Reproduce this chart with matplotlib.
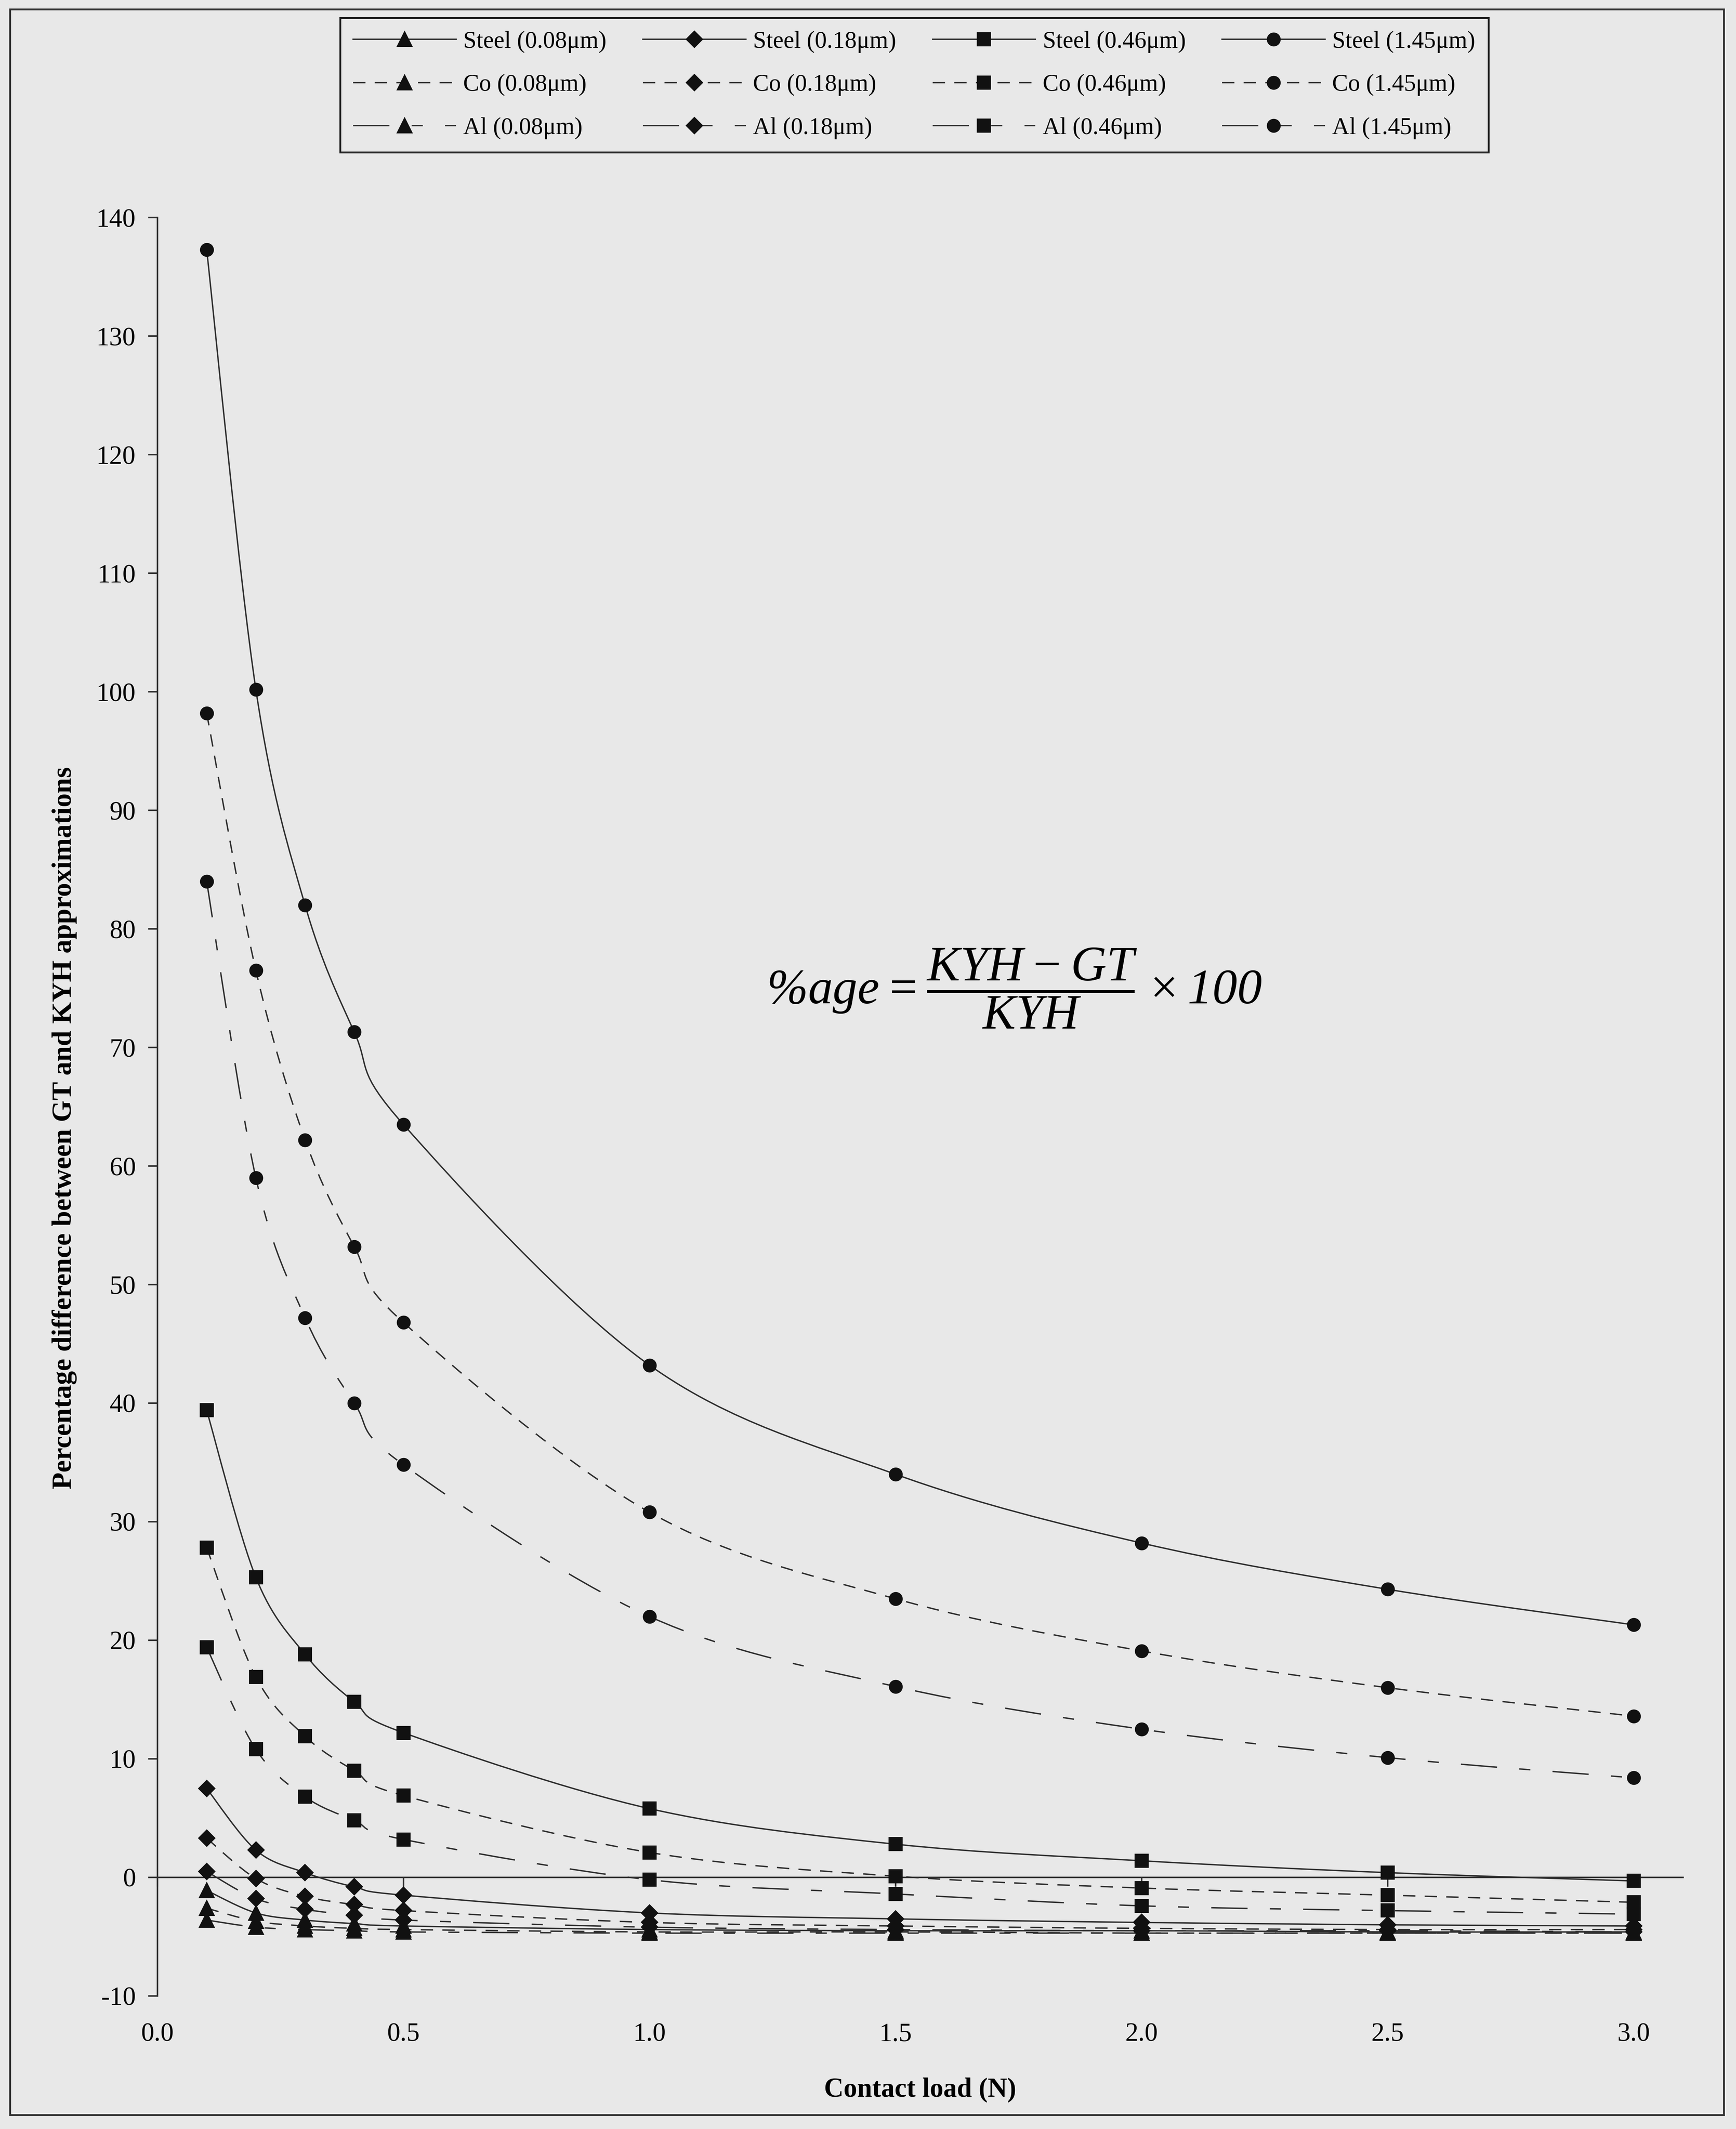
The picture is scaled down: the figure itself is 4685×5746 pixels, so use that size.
import numpy as np
import matplotlib
matplotlib.use("Agg")
import matplotlib.pyplot as plt
from matplotlib.path import Path
from matplotlib.patches import PathPatch, Rectangle
from matplotlib.lines import Line2D

plt.rcParams['font.family'] = ['Liberation Serif', 'DejaVu Serif']
plt.rcParams['axes.unicode_minus'] = False
plt.rcParams['lines.scale_dashes'] = False
# the formula is the only mathtext on the chart, set it all in italic
plt.rcParams['mathtext.fontset'] = 'custom'
plt.rcParams['mathtext.rm'] = 'Liberation Serif:italic'
plt.rcParams['mathtext.it'] = 'Liberation Serif:italic'

# contact load (N)
load = [0.1, 0.2, 0.3, 0.4, 0.5, 1.0, 1.5, 2.0, 2.5, 3.0]

# % difference between GT and KYH, per material and roughness
steel_008 = [-1.1, -3.0, -3.6, -3.9, -4.1, -4.4, -4.5, -4.5, -4.6, -4.6]
steel_018 = [7.5, 2.3, 0.4, -0.8, -1.5, -3.0, -3.5, -3.8, -4.0, -4.1]
steel_046 = [39.4, 25.3, 18.8, 14.8, 12.2, 5.8, 2.8, 1.4, 0.4, -0.3]
steel_145 = [137.3, 100.2, 82.0, 71.3, 63.5, 43.2, 34.0, 28.2, 24.3, 21.3]

co_008 = [-2.6, -3.7, -4.1, -4.3, -4.4, -4.6, -4.6, -4.7, -4.7, -4.7]
co_018 = [3.3, -0.1, -1.6, -2.3, -2.8, -3.8, -4.1, -4.3, -4.4, -4.4]
co_046 = [27.8, 16.9, 11.9, 9.0, 6.9, 2.1, 0.1, -0.9, -1.5, -2.1]
co_145 = [98.2, 76.5, 62.2, 53.2, 46.8, 30.8, 23.5, 19.1, 16.0, 13.6]

al_008 = [-3.6, -4.2, -4.4, -4.5, -4.6, -4.7, -4.7, -4.7, -4.7, -4.7]
al_018 = [0.5, -1.8, -2.7, -3.2, -3.6, -4.2, -4.4, -4.5, -4.5, -4.6]
al_046 = [19.4, 10.8, 6.8, 4.8, 3.2, -0.2, -1.4, -2.4, -2.8, -3.1]
al_145 = [84.0, 59.0, 47.2, 40.0, 34.8, 22.0, 16.1, 12.5, 10.1, 8.4]

materials = ['Steel', 'Co', 'Al']
roughness = ['0.08', '0.18', '0.46', '1.45']
data = {
    'Steel': [steel_008, steel_018, steel_046, steel_145],
    'Co': [co_008, co_018, co_046, co_145],
    'Al': [al_008, al_018, al_046, al_145],
}

line_styles = {'Steel': '-', 'Co': (0, (8, 6)), 'Al': (0, (23.5, 14.4, 7.2, 14.4))}
markers = {'0.08': ('^', 9), '0.18': ('D', 7.2), '0.46': ('s', 8), '1.45': ('o', 8)}
line_col = '#2e2e2e'
mark_col = '#111111'
bg = '#e8e8e8'


def smooth_path(xs, ys):
    # Bezier curve through the points, same tension as spreadsheet smoothing
    pts = np.column_stack([xs, ys])
    n = len(pts)
    verts = [pts[0]]
    codes = [Path.MOVETO]
    for i in range(n - 1):
        p0 = pts[i - 1] if i > 0 else pts[i]
        p1 = pts[i]
        p2 = pts[i + 1]
        p3 = pts[i + 2] if i + 2 < n else pts[i + 1]
        verts += [p1 + (p2 - p0) / 6.0, p2 - (p3 - p1) / 6.0, p2]
        codes += [Path.CURVE4] * 3
    return Path(verts, codes)


fig = plt.figure(figsize=(4685 / 300, 5746 / 300), dpi=300, facecolor=bg)
ax = fig.add_axes([0.0907, 0.0625, 0.8787, 0.8353])
ax.set_facecolor('none')

handles = {}
for mat in materials:
    for k, r in enumerate(roughness):
        ys = data[mat][k]
        patch = PathPatch(smooth_path(load, ys), fill=False, edgecolor=line_col,
                          lw=0.9, linestyle=line_styles[mat], zorder=2)
        ax.add_patch(patch)
        m, ms = markers[r]
        ax.plot(load, ys, linestyle='none', marker=m, ms=ms, color=mark_col, zorder=3)
        handles[(mat, r)] = Line2D([], [], color=line_col, lw=0.9, linestyle=line_styles[mat],
                                   marker=m, ms=ms, markerfacecolor=mark_col,
                                   markeredgecolor=mark_col)

ax.set_xlim(0, 3.1)
ax.set_ylim(-10, 140)
ax.set_yticks(np.arange(-10, 141, 10))
ax.set_xticks(np.arange(0, 3.01, 0.5))
ax.set_xticklabels(['%.1f' % v for v in np.arange(0, 3.01, 0.5)])

for s in ['top', 'right']:
    ax.spines[s].set_visible(False)
ax.spines['bottom'].set_position(('data', 0))
for s in ['left', 'bottom']:
    ax.spines[s].set_linewidth(1.0)
    ax.spines[s].set_color('#303030')

ax.tick_params(axis='y', direction='out', length=6, width=1.0, pad=8, labelsize=17, color='#303030')
ax.tick_params(axis='x', direction='out', length=6, width=1.0, pad=88, labelsize=17, color='#303030')

ax.set_xlabel('Contact load (N)', fontsize=17.5, fontweight='bold')
ax.xaxis.set_label_coords(0.5, -0.0456)
ax.set_ylabel('Percentage difference between GT and KYH approximations', fontsize=18, fontweight='bold')
ax.yaxis.set_label_coords(-0.0527, 0.488)

ax.text(1.741, 75.0, r'$\%age = \dfrac{KYH - GT}{KYH} \times 100$',
        fontsize=32, ha='center', va='center')

# legend: rows are materials, columns are roughness values
order = [(mat, r) for r in roughness for mat in materials]
labels = ['%s (%sμm)' % (mat, r) for mat, r in order]
leg = fig.legend([handles[o] for o in order], labels, ncol=4, mode='expand', loc='upper left',
                 bbox_to_anchor=(0.1959, 0.9265, 0.6615, 0.0652), bbox_transform=fig.transFigure,
                 borderaxespad=0, fontsize=15.5, handlelength=4.3, handletextpad=0.3,
                 labelspacing=0.88, borderpad=0.55, columnspacing=0.6,
                 fancybox=False, edgecolor='#222222', facecolor=bg, framealpha=1)
leg.get_frame().set_linewidth(1.2)

# outer frame around the whole chart
fig.patches.append(Rectangle((0.0058, 0.0066), 0.9872, 0.989, transform=fig.transFigure,
                             fill=False, lw=1.2, edgecolor='#333333'))

fig.savefig('out.png', dpi=300, facecolor=bg)
